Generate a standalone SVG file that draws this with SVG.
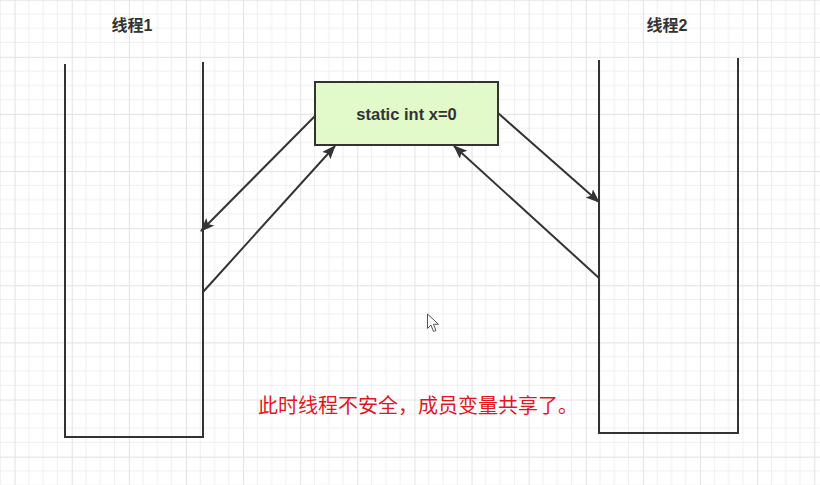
<svg xmlns="http://www.w3.org/2000/svg" width="820" height="485" viewBox="0 0 820 485">
<style>
.wall{fill:none;stroke:#333;stroke-width:2;stroke-linecap:square}
.conn{fill:none;stroke:#333;stroke-width:2}
.title{font-family:"Liberation Sans","Noto Sans CJK SC",sans-serif;font-weight:bold;font-size:16px;fill:#333;text-anchor:middle}
.lbl{font-family:"Liberation Sans","Noto Sans CJK SC",sans-serif;font-weight:bold;font-size:16.5px;fill:#333;text-anchor:middle}
.note{font-family:"Noto Sans CJK SC",sans-serif;font-size:20px;fill:#e3161e}
</style>
<defs>
<pattern id="grid" patternUnits="userSpaceOnUse" x="14.6" y="-0.3" width="57.12" height="57.12">
<path d="M14.28 0V57.12M28.56 0V57.12M42.84 0V57.12M0 14.28H57.12M0 28.56H57.12M0 42.84H57.12" stroke="#efefef" stroke-width="1" fill="none"/>
<path d="M0.5 0V57.12M0 0.5H57.12" stroke="#e2e2e2" stroke-width="1" fill="none"/>
</pattern>
<marker id="arr" markerUnits="userSpaceOnUse" markerWidth="16" markerHeight="12" refX="13" refY="5.5" orient="auto">
<path d="M0,0 L14,5.5 L0,11 L3,5.5 z" fill="#333"/>
</marker>
</defs>
<rect width="820" height="485" fill="#fff"/>
<rect width="820" height="485" fill="url(#grid)"/>

<g id="thread1">
<path class="wall" d="M65 65V437H203V63"/>
<text class="title" x="132" y="31">线程1</text>
</g>
<g id="thread2">
<path class="wall" d="M599 61V433H738V59"/>
<text class="title" x="667" y="31">线程2</text>
</g>
<g id="shared">
<rect x="315" y="82" width="183" height="63" fill="#e2f9c9" stroke="#333" stroke-width="2"/>
<text class="lbl" x="406.5" y="120">static int x=0</text>
</g>

<g id="connectors">
<path class="conn" d="M315 116L201 231" marker-end="url(#arr)"/>
<path class="conn" d="M203 292L335 146" marker-end="url(#arr)"/>
<path class="conn" d="M498 113L599 202" marker-end="url(#arr)"/>
<path class="conn" d="M599 278L454 146" marker-end="url(#arr)"/>
</g>

<g id="note">
<text class="note" x="258" y="413">此时线程不安全，成员变量共享了。</text>
</g>

<path d="M427.5 314V328.5L431 325L433.5 331.5L436 330.5L433.5 324.3H438.5Z" fill="#fff" stroke="#555" stroke-width="1" stroke-linejoin="round"/>
</svg>
